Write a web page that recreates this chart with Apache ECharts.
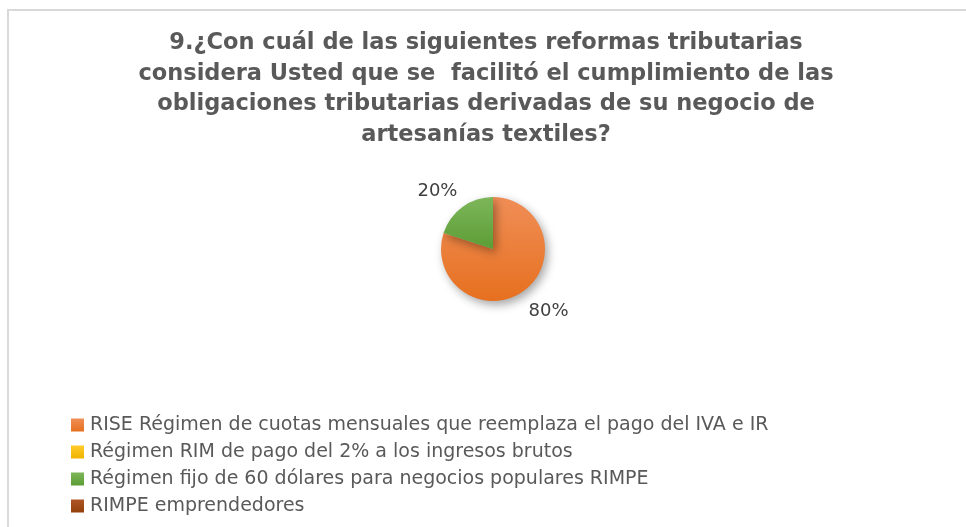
<!DOCTYPE html>
<html>
<head>
<meta charset="UTF-8">
<title>Reformas tributarias</title>
<script src="https://cdn.jsdelivr.net/npm/echarts@6/dist/echarts.min.js"></script>
<style>
  html, body { margin: 0; padding: 0; background: #fff; }
  #main { width: 966px; height: 527px; }
</style>
</head>
<body>
<div id="main"></div>
<script>
var titleLines = [
    '9.¿Con cuál de las siguientes reformas tributarias',
    'considera Usted que se  facilitó el cumplimiento de las',
    'obligaciones tributarias derivadas de su negocio de',
    'artesanías textiles?'
];
var categories = [
    'RISE Régimen de cuotas mensuales que reemplaza el pago del IVA e IR',
    'Régimen RIM de pago del 2% a los ingresos brutos',
    'Régimen fijo de 60 dólares para negocios populares RIMPE',
    'RIMPE emprendedores'
];
var values = [80, 0, 20, 0];

// top / bottom colour of each slice gradient
var colorsTop = ['#F08E57', '#FFCB2A', '#7DB65A', '#AE5527'];
var colorsBottom = ['#E6701F', '#F0B300', '#5C9D35', '#93400B'];

function grad(i) {
    return {
        type: 'linear', x: 0, y: 0, x2: 0, y2: 1,
        colorStops: [
            { offset: 0, color: colorsTop[i] },
            { offset: 1, color: colorsBottom[i] }
        ]
    };
}

var cx = 493, cy = 249;

var myChart = echarts.init(document.getElementById('main'));
var option = {
    animation: false,
    color: categories.map(function (c, i) { return grad(i); }),
    title: {
        text: titleLines.join('\n'),
        left: 486,
        textAlign: 'center',
        top: 28,
        padding: 0,
        textStyle: {
            fontFamily: 'DejaVu Sans',
            fontSize: 22.5,
            fontWeight: 'bold',
            color: '#595959',
            lineHeight: 30.5
        }
    },
    graphic: [{
        type: 'rect',
        silent: true,
        shape: { x: 8, y: 10, width: 980, height: 540 },
        style: { fill: 'none', stroke: '#D9D9D9', lineWidth: 2 }
    }],
    legend: {
        orient: 'vertical',
        left: 71,
        top: 415,
        padding: 0,
        itemWidth: 13,
        itemHeight: 13,
        itemGap: 7,
        icon: 'rect',
        data: categories,
        textStyle: {
            fontFamily: 'DejaVu Sans',
            fontSize: 19,
            lineHeight: 20,
            color: '#595959',
            padding: [0, 0, 0, 1]
        }
    },
    series: [{
        type: 'pie',
        center: [cx, cy],
        radius: 52,
        startAngle: 90,
        clockwise: true,
        avoidLabelOverlap: false,
        itemStyle: {
            shadowBlur: 10,
            shadowOffsetX: 3,
            shadowOffsetY: 4,
            shadowColor: 'rgba(0,0,0,0.35)'
        },
        label: {
            show: true,
            position: 'outside',
            fontFamily: 'DejaVu Sans',
            fontSize: 18,
            color: '#404040',
            formatter: function (p) {
                return p.value ? Math.round(p.percent) + '%' : '';
            }
        },
        labelLine: { show: false, length: 0, length2: 0 },
        labelLayout: function (p) {
            var mid = p.labelRect.y + p.labelRect.height / 2;
            return { dy: mid < cy ? -16 : 20 };
        },
        emphasis: { disabled: true },
        data: categories.map(function (c, i) {
            return { name: c, value: values[i] };
        })
    }]
};
myChart.setOption(option);
</script>
</body>
</html>
